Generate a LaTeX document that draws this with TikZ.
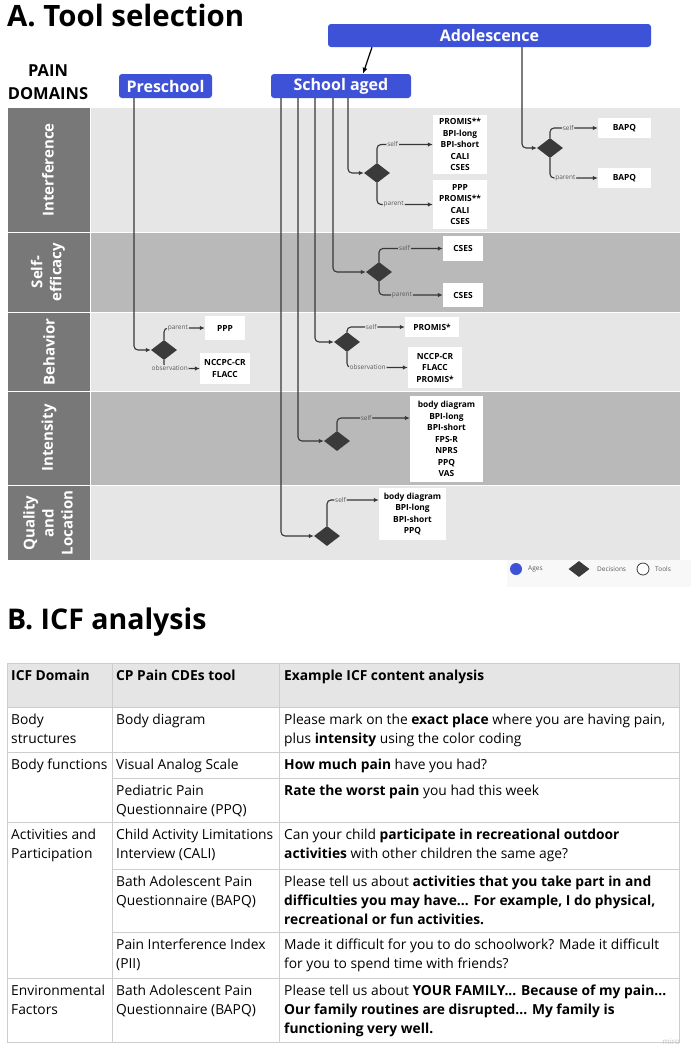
\documentclass[tikz,border=0pt]{standalone}
\usepackage{fontspec}
\setmainfont{Open Sans}
\usetikzlibrary{arrows.meta,shapes.geometric}
\definecolor{ageblue}{RGB}{62,82,216}
\definecolor{lanelight}{RGB}{230,230,230}
\definecolor{lanedark}{RGB}{185,185,185}
\definecolor{lanelab}{RGB}{120,120,120}
\definecolor{dia}{RGB}{58,58,58}
\definecolor{lnc}{RGB}{55,55,55}
\definecolor{lblc}{RGB}{90,90,90}
\definecolor{tline}{RGB}{205,205,205}
\definecolor{thead}{RGB}{229,229,229}
\definecolor{legbg}{RGB}{248,248,248}
\begin{document}
\begin{tikzpicture}[x=1pt,y=-1pt,
  agebox/.style={fill=ageblue, rounded corners=3pt, text=white, font=\bfseries\fontsize{16}{18}\selectfont, inner sep=0},
  dec/.style={diamond, fill=dia, minimum width=26, minimum height=20, inner sep=0},
  tool/.style={fill=white, font=\bfseries\fontsize{8.4}{11.5}\selectfont, align=center, inner sep=0},
  flow/.style={draw=lnc, line width=1.1pt, rounded corners=4pt, -{Latex[length=5pt,width=4.5pt]}},
  agel/.style={draw=lnc, line width=1.1pt, rounded corners=4pt, -{Latex[length=5pt,width=4.5pt]}},
  lbl/.style={fill=lanelight, text=lblc, font=\fontsize{6.5}{7}\selectfont, inner sep=1pt},
  lbld/.style={lbl, fill=lanedark},
  lanename/.style={rotate=90, text=white, font=\bfseries\fontsize{15}{19}\selectfont, align=center, inner sep=0},
  cell/.style={anchor=north west, inner sep=0, align=left, font=\fontsize{13.8}{19}\selectfont},
  hcell/.style={cell, font=\bfseries\fontsize{13.8}{19}\selectfont},
  leg/.style={anchor=west, inner sep=0, text=lblc, font=\fontsize{6.5}{7}\selectfont},
  tl/.style={draw=tline, line width=1pt}]
\useasboundingbox (0,0) rectangle (691,1050);
\fill[white] (0,0) rectangle (691,1050);

% ---------- titles ----------
\node[anchor=base west, inner sep=0, font=\bfseries\fontsize{29.4}{31}\selectfont] (tA) at (7,26) {A. Tool selection};
\node[anchor=north, inner sep=0, align=center, font=\bfseries\fontsize{16.5}{23}\selectfont] (pd) at (48,60) {\strut PAIN\\DOMAINS};

% ---------- lanes ----------
\fill[lanelight] (91,108) rectangle (680,232);
\fill[lanedark]  (91,233) rectangle (680,312);
\fill[lanelight] (91,313) rectangle (680,391);
\fill[lanedark]  (91,392) rectangle (680,485);
\fill[lanelight] (91,486) rectangle (680,560);
\fill[lanelab] (8,108) rectangle (90,232);
\fill[lanelab] (8,233) rectangle (90,312);
\fill[lanelab] (8,313) rectangle (90,391);
\fill[lanelab] (8,392) rectangle (90,485);
\fill[lanelab] (8,486) rectangle (90,560);
\node[lanename] (lInt) at (48,170) {Interference};
\node[lanename] (lSelf) at (48,272) {Self-\\efficacy};
\node[lanename] (lBeh) at (49,352) {Behavior};
\node[lanename] (lIntens) at (49,438) {Intensity};
\node[lanename] (lQual) at (48,523) {Quality\\and\\Location};

% ---------- age boxes ----------
\node[agebox, minimum width=323, minimum height=23] (ado) at (489.5,35.5) {Adolescence};
\node[agebox, minimum width=93, minimum height=24] (pre) at (165.5,86) {Preschool};
\node[agebox, minimum width=140, minimum height=24] (sch) at (341,86) {School aged};
\coordinate (ax1) at (372,0);
\coordinate (ax2) at (363,0);
\draw[line width=1.2pt, black, -{Latex[length=6pt,width=5pt]}] (ado.south -| ax1) -- (sch.north -| ax2);

% ---------- decisions ----------
\node[dec] (d0) at (164,350) {};
\node[dec] (d1) at (377,173) {};
\node[dec] (d2) at (379,272) {};
\node[dec] (d3) at (347,342) {};
\node[dec] (d4) at (337,441) {};
\node[dec] (d5) at (327,536) {};
\node[dec] (d6) at (550,148) {};

% ---------- tools ----------
\node[tool, minimum width=54, minimum height=59] (t1) at (460,144.5) {PROMIS**\\BPI-long\\BPI-short\\CALI\\CSES};
\node[tool, minimum width=54, minimum height=49] (t2) at (460,204.5) {PPP\\PROMIS**\\CALI\\CSES};
\node[tool, minimum width=53, minimum height=20] (t3) at (624.5,128) {BAPQ};
\node[tool, minimum width=53, minimum height=20] (t4) at (624.5,178) {BAPQ};
\node[tool, minimum width=40, minimum height=25] (t5) at (463,248.5) {CSES};
\node[tool, minimum width=40, minimum height=24] (t6) at (463,295) {CSES};
\node[tool, minimum width=40, minimum height=24] (t7) at (225,328) {PPP};
\node[tool, minimum width=50, minimum height=31] (t8) at (225,368.5) {NCCPC-CR\\FLACC};
\node[tool, minimum width=54, minimum height=20] (t9) at (432,327) {PROMIS*};
\node[tool, minimum width=54, minimum height=41] (t10) at (435,367.5) {NCCP-CR\\FLACC\\PROMIS*};
\node[tool, minimum width=73, minimum height=86] (t11) at (446.5,439) {body diagram\\BPI-long\\BPI-short\\FPS-R\\NPRS\\PPQ\\VAS};
\node[tool, minimum width=67, minimum height=52] (t12) at (412.5,514) {body diagram\\BPI-long\\BPI-short\\PPQ};

% ---------- age lines ----------
\coordinate (px) at (134,0);
\coordinate (s1) at (281,0);
\coordinate (s2) at (298,0);
\coordinate (s3) at (315,0);
\coordinate (s4) at (333,0);
\coordinate (s5) at (348,0);
\coordinate (a1) at (522,0);
\draw[agel] (pre.south -| px) |- (d0.west);
\draw[agel] (sch.south -| s5) |- (d1.west);
\draw[agel] (sch.south -| s4) |- (d2.west);
\draw[agel] (sch.south -| s3) |- (d3.west);
\draw[agel] (sch.south -| s2) |- (d4.west);
\draw[agel] (sch.south -| s1) |- (d5.west);
\draw[agel] (ado.south -| a1) |- (d6.west);

% ---------- branches ----------
\coordinate (y11) at (0,418);
\coordinate (y12) at (0,500);
\draw[flow] (d1.north) |- node[lbl, pos=0.64] (b1) {self} (t1.west);
\draw[flow] (d1.south) |- node[lbl, pos=0.65] (b2) {parent} (t2.west);
\draw[flow] (d6.north) |- node[lbl, pos=0.69] (b3) {self} (t3.west);
\draw[flow] (d6.south) |- node[lbl, pos=0.66] (b4) {parent} (t4.west);
\draw[flow] (d2.north) |- node[lbld, pos=0.70] (b5) {self} (t5.west);
\draw[flow] (d2.south) |- node[lbld, pos=0.68] (b6) {parent} (t6.west);
\draw[flow] (d0.north) |- node[lbl, pos=0.67] (b7) {parent} (t7.west);
\draw[flow] (d0.south) |- node[lbl, pos=0.58] (b8) {observation} (t8.west);
\draw[flow] (d3.north) |- node[lbl, pos=0.71] (b9) {self} (t9.west);
\draw[flow] (d3.south) |- node[lbl, pos=0.67] (b10) {observation} (t10.west);
\draw[flow] (d4.north) |- node[lbld, pos=0.70] (b11) {self} (t11.west |- y11);
\draw[flow] (d5.north) |- node[lbl, pos=0.63] (b12) {self} (t12.west |- y12);

% ---------- legend ----------
\fill[legbg] (507,560) rectangle (691,587);
\node[circle, fill=ageblue, minimum size=12, inner sep=0] (lgA) at (516,569) {};
\node[leg] (lgAt) at (528,569) {Ages};
\node[diamond, fill=dia, minimum width=21, minimum height=16, inner sep=0] (lgD) at (579,569) {};
\node[leg] (lgDt) at (597,569) {Decisions};
\node[circle, draw=dia, line width=0.8pt, fill=white, minimum size=12, inner sep=0] (lgT) at (643,569) {};
\node[leg] (lgTt) at (655,569) {Tools};

% ---------- section B ----------
\node[anchor=base west, inner sep=0, font=\bfseries\fontsize{28.5}{30}\selectfont] (tB) at (7,629) {B. ICF analysis};

\fill[thead] (7,663) rectangle (679,707);
\draw[tl] (7,663) rectangle (679,1042);
\draw[tl] (112,663) -- (112,1042);
\draw[tl] (279,663) -- (279,1042);
\draw[tl] (7,707) -- (679,707);
\draw[tl] (7,752) -- (679,752);
\draw[tl] (112,778) -- (679,778);
\draw[tl] (7,822) -- (679,822);
\draw[tl] (112,869) -- (679,869);
\draw[tl] (112,932) -- (679,932);
\draw[tl] (7,978) -- (679,978);

\node[hcell] (h1) at (11,666.7) {\strut ICF Domain};
\node[hcell] (h2) at (116,666.7) {\strut CP Pain CDEs tool};
\node[hcell] (h3) at (284,666.7) {\strut Example ICF content analysis};

\node[cell] (r1a) at (11,710.7) {\strut Body\\structures};
\node[cell] (r1b) at (116,710.7) {\strut Body diagram};
\node[cell] (r1c) at (284,710.7) {\strut Please mark on the \textbf{exact place} where you are having pain,\\plus \textbf{intensity} using the color coding};

\node[cell] (r2a) at (11,755.7) {\strut Body functions};
\node[cell] (r2b) at (116,755.7) {\strut Visual Analog Scale};
\node[cell] (r2c) at (284,755.7) {\strut\textbf{How much pain} have you had?};

\node[cell] (r3b) at (116,781.7) {\strut Pediatric Pain\\Questionnaire (PPQ)};
\node[cell] (r3c) at (284,781.7) {\strut\textbf{Rate the worst pain} you had this week};

\node[cell] (r4a) at (11,825.7) {\strut Activities and\\Participation};
\node[cell] (r4b) at (116,825.7) {\strut Child Activity Limitations\\Interview (CALI)};
\node[cell] (r4c) at (284,825.7) {\strut Can your child \textbf{participate in recreational outdoor}\\\textbf{activities} with other children the same age?};

\node[cell] (r5b) at (116,872.7) {\strut Bath Adolescent Pain\\Questionnaire (BAPQ)};
\node[cell] (r5c) at (284,872.7) {\strut Please tell us about \textbf{activities that you take part in and}\\\textbf{difficulties you may have... For example, I do physical,}\\\textbf{recreational or fun activities.}};

\node[cell] (r6b) at (116,935.7) {\strut Pain Interference Index\\(PII)};
\node[cell] (r6c) at (284,935.7) {\strut Made it difficult for you to do schoolwork? Made it difficult\\for you to spend time with friends?};

\node[cell] (r7a) at (11,981.7) {\strut Environmental\\Factors};
\node[cell] (r7b) at (116,981.7) {\strut Bath Adolescent Pain\\Questionnaire (BAPQ)};
\node[cell] (r7c) at (284,981.7) {\strut Please tell us about \textbf{YOUR FAMILY... Because of my pain...}\\\textbf{Our family routines are disrupted... My family is}\\\textbf{functioning very well.}};

\node[anchor=base east, inner sep=0, text=gray!45, font=\fontsize{8}{9}\selectfont] (miro) at (680,1044) {miro};
\end{tikzpicture}
\end{document}
